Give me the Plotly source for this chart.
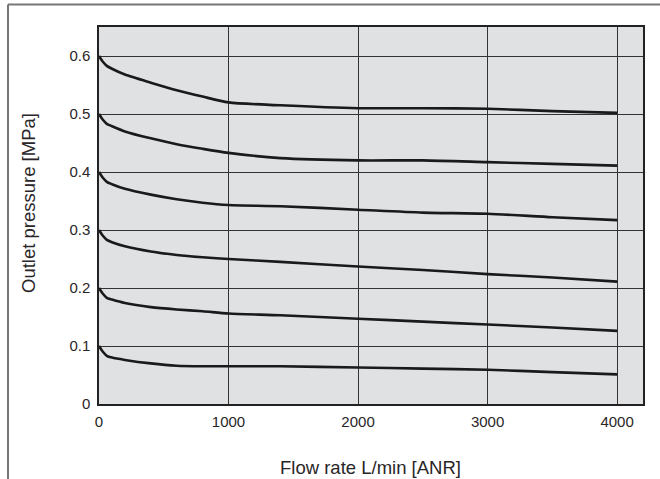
import plotly.graph_objects as go

flow = [0, 30, 60, 100, 200, 400, 600, 800, 1000, 1400, 2000, 2500, 3000, 3500, 4000]
p06 = [0.600, 0.590, 0.583, 0.578, 0.568, 0.554, 0.541, 0.530, 0.520, 0.515, 0.510, 0.510, 0.509, 0.505, 0.502]
p05 = [0.500, 0.490, 0.483, 0.479, 0.470, 0.458, 0.448, 0.440, 0.433, 0.424, 0.420, 0.420, 0.417, 0.414, 0.411]
p04 = [0.400, 0.390, 0.383, 0.379, 0.371, 0.361, 0.353, 0.347, 0.343, 0.341, 0.335, 0.330, 0.328, 0.322, 0.317]
p03 = [0.300, 0.290, 0.283, 0.279, 0.272, 0.263, 0.257, 0.253, 0.250, 0.245, 0.237, 0.231, 0.224, 0.218, 0.211]
p02 = [0.200, 0.190, 0.183, 0.180, 0.174, 0.167, 0.163, 0.160, 0.156, 0.153, 0.147, 0.142, 0.137, 0.132, 0.126]
p01 = [0.100, 0.090, 0.083, 0.080, 0.076, 0.070, 0.066, 0.065, 0.065, 0.065, 0.063, 0.061, 0.059, 0.055, 0.051]
series = [p06, p05, p04, p03, p02, p01]

x_ticks = [0, 1000, 2000, 3000, 4000]
y_ticks = [0, 0.1, 0.2, 0.3, 0.4, 0.5, 0.6]
y_labels = ["0", "0.1", "0.2", "0.3", "0.4", "0.5", "0.6"]
x_title = "Flow rate L/min [ANR]"
y_title = "Outlet pressure [MPa]"

fig = go.Figure()
for s in series:
    fig.add_trace(go.Scatter(x=flow, y=s, mode="lines",
                             line=dict(color="#1a1a1a", width=2.6, shape="spline", smoothing=0.7),
                             showlegend=False, hoverinfo="skip"))

text_color = "#2a2627"
font = dict(family="Liberation Sans, Arial, sans-serif", size=15, color=text_color)

fig.update_layout(
    width=660, height=479,
    margin=dict(l=99, r=17, t=27, b=75),
    paper_bgcolor="white",
    plot_bgcolor="#e0e1e3",
    font=font,
    xaxis=dict(range=[0, 4200], tickvals=x_ticks, showgrid=True, gridcolor="#333333", gridwidth=1.2,
               zeroline=False, showline=True, linecolor="#222222", linewidth=1.5, mirror=True,
               ticks="outside", ticklen=3, tickcolor="rgba(0,0,0,0)"),
    yaxis=dict(range=[0, 0.65], tickvals=y_ticks, ticktext=y_labels, showgrid=True, gridcolor="#333333",
               gridwidth=1.2, zeroline=False, showline=True, linecolor="#222222", linewidth=1.5, mirror=True,
               ticks="outside", ticklen=4, tickcolor="rgba(0,0,0,0)"),
)

title_font = dict(family="Liberation Sans, Arial, sans-serif", size=18.5, color=text_color)
fig.add_annotation(text=x_title, xref="paper", yref="paper", x=(370.5 - 99) / 544, y=(404 - 467) / 377,
                   xanchor="center", yanchor="middle", showarrow=False, font=title_font)
fig.add_annotation(text=y_title, xref="paper", yref="paper", x=(28 - 99) / 544, y=(404 - 203) / 377,
                   xanchor="center", yanchor="middle", showarrow=False, textangle=-90, font=title_font)

# outer frame (left and top edges)
fx = (8 - 99) / 544
fy = 1 + (27 - 4.5) / 377
fig.add_shape(type="line", xref="paper", yref="paper", x0=fx, x1=fx, y0=-0.25, y1=fy,
              line=dict(color="#777777", width=2))
fig.add_shape(type="line", xref="paper", yref="paper", x0=fx, x1=1.1, y0=fy, y1=fy,
              line=dict(color="#777777", width=2))

fig.write_html("out.html", config={"displayModeBar": False},
               post_script="document.body.style.margin='0';")
